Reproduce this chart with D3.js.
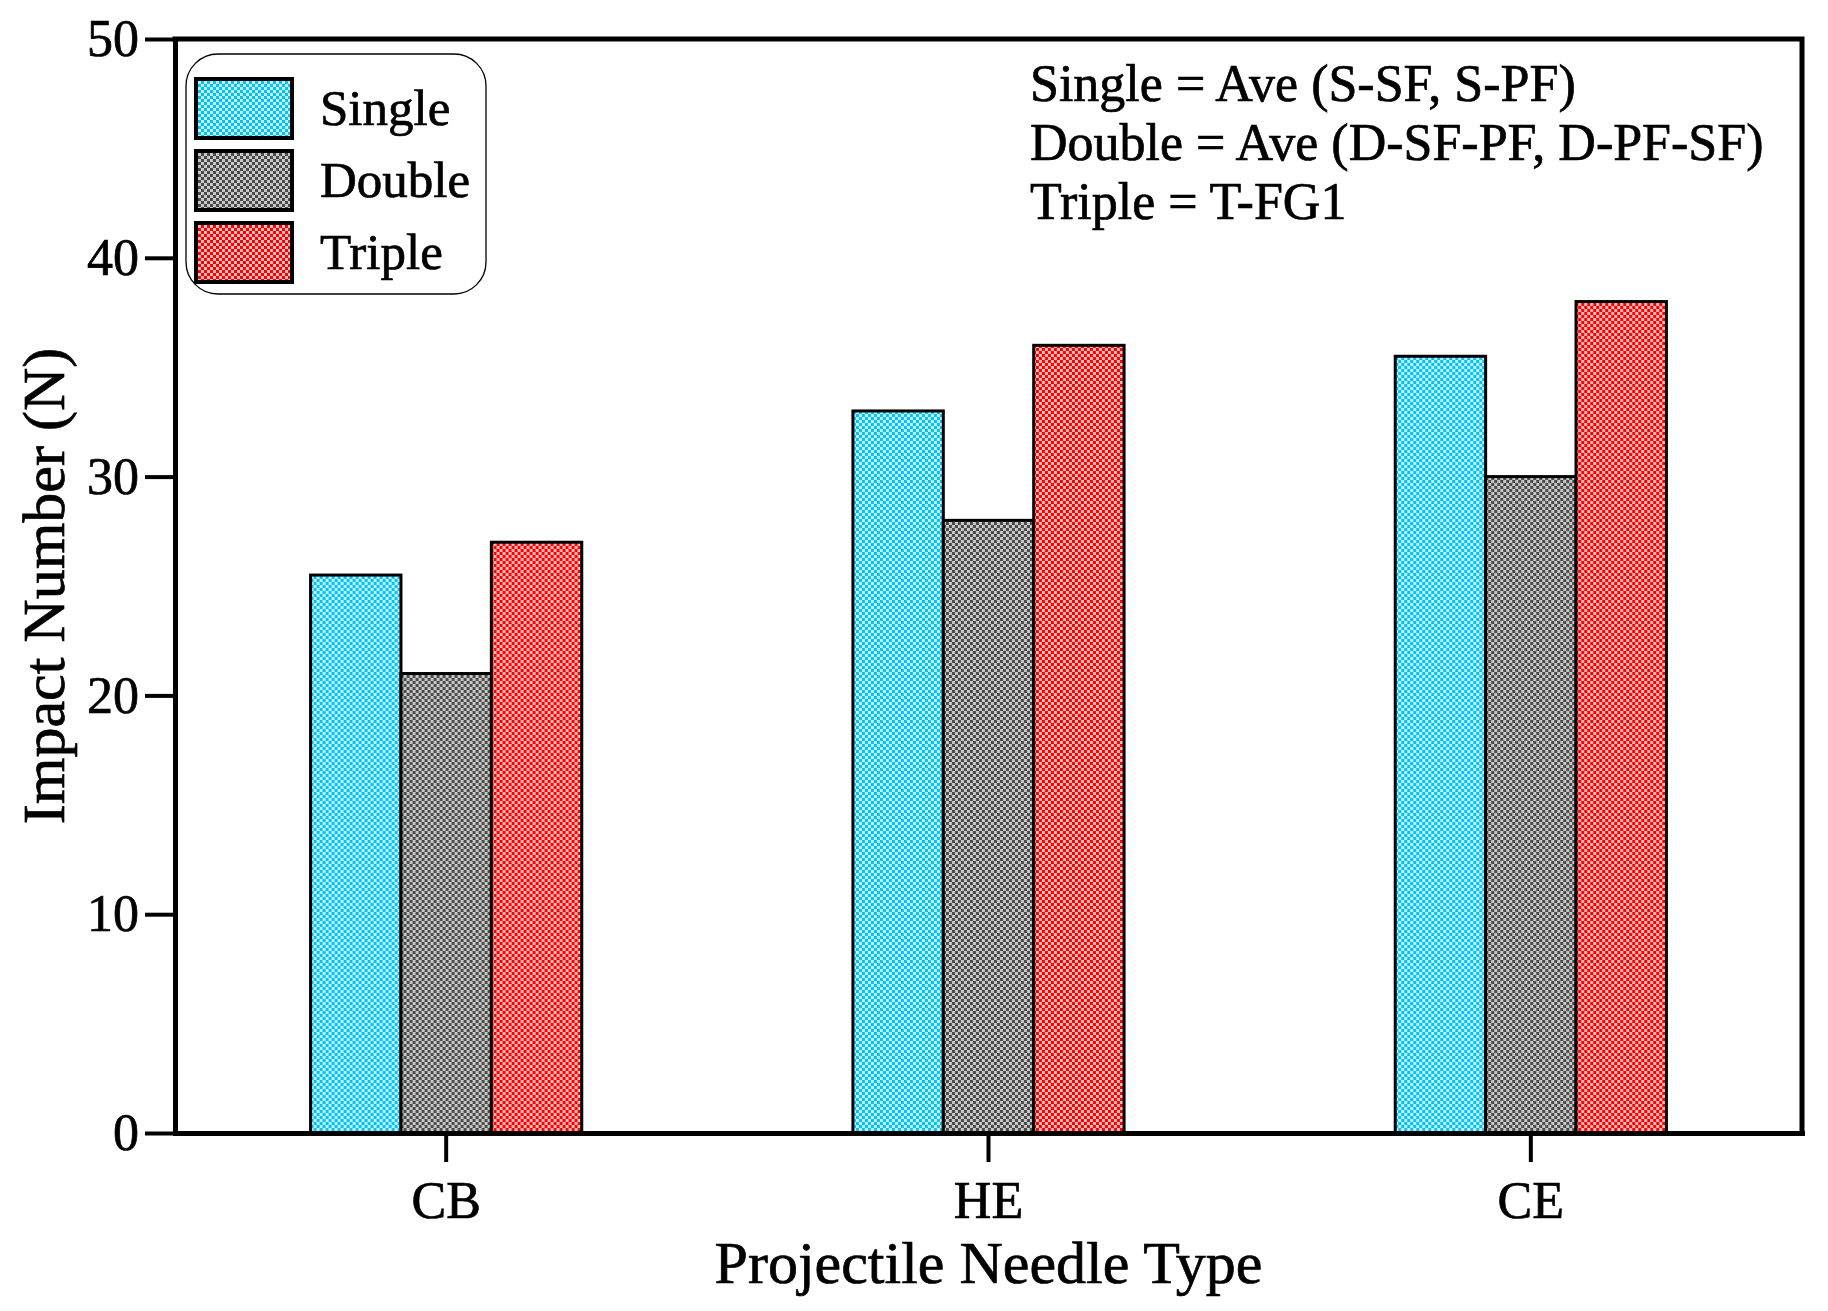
<!DOCTYPE html>
<html>
<head>
<meta charset="utf-8">
<script src="https://cdn.jsdelivr.net/npm/d3@7"></script>
<style>
body { margin: 0; background: #fff; }
svg { display: block; }
text { font-family: "Liberation Serif", "Times New Roman", serif; fill: #000; stroke: #000; stroke-width: 0.7px; }
</style>
</head>
<body>
<div id="graph"></div>
<script>
var categories = ["CB", "HE", "CE"];
var series = ["Single", "Double", "Triple"];
var singleValues = [25.5, 33, 35.5];
var doubleValues = [21, 28, 30];
var tripleValues = [27, 36, 38];
var yTicks = [0, 10, 20, 30, 40, 50];
var notes = ["Single = Ave (S-SF, S-PF)", "Double = Ave (D-SF-PF, D-PF-SF)", "Triple = T-FG1"];

function dessin() {
    "use strict";
    var margin = {top: 39, right: 26, bottom: 178, left: 175},
        width = 1828 - margin.left - margin.right,
        height = 1311 - margin.top - margin.bottom,
        motifs = {
            Single: {fonce: "#00c4f5", clair: "#c4f0ff"},
            Double: {fonce: "#4a4a4a", clair: "#c8c8c8"},
            Triple: {fonce: "#ff0000", clair: "#ffbcbc"}
        },
        valeurs = [singleValues, doubleValues, tripleValues],
        donnees = categories.map(function (c, i) {
            return series.map(function (s, j) { return {cat: c, serie: s, val: valeurs[j][i]}; });
        }),

        racine = d3.select("#graph")
            .append("svg")
                .attr("width", 1828)
                .attr("height", 1311),
        defs = racine.append("defs"),
        svg = racine.append("g")
            .attr("transform", "translate(" + margin.left + "," + margin.top + ")"),

        x = d3.scaleBand()
            .domain(categories)
            .range([0, width])
            .paddingInner(0.5)
            .paddingOuter(0.25),
        xs = d3.scaleBand()
            .domain(series)
            .range([0, x.bandwidth()]),
        y = d3.scaleLinear()
            .domain([0, 50])
            .range([height, 0]);

    // motifs en damier
    series.forEach(function (s) {
        var p = defs.append("pattern")
            .attr("id", "motif-" + s)
            .attr("patternUnits", "userSpaceOnUse")
            .attr("width", 6)
            .attr("height", 6);
        p.append("rect").attr("width", 6).attr("height", 6).attr("fill", motifs[s].clair);
        p.append("rect").attr("width", 3).attr("height", 3).attr("fill", motifs[s].fonce);
        p.append("rect").attr("x", 3).attr("y", 3).attr("width", 3).attr("height", 3).attr("fill", motifs[s].fonce);
    });

    // barres
    svg.selectAll(".groupe")
        .data(donnees)
        .enter()
        .append("g")
            .attr("transform", function (d) { return "translate(" + x(d[0].cat) + ",0)"; })
        .selectAll("rect")
        .data(function (d) { return d; })
        .enter()
        .append("rect")
            .attr("x", function (d) { return xs(d.serie); })
            .attr("y", function (d) { return y(d.val); })
            .attr("width", xs.bandwidth())
            .attr("height", function (d) { return height - y(d.val); })
            .attr("fill", function (d) { return "url(#motif-" + d.serie + ")"; })
            .attr("stroke", "#000")
            .attr("stroke-width", 3);

    // cadre haut et droit
    svg.append("path")
        .attr("d", "M0,0H" + width + "V" + height)
        .attr("fill", "none")
        .attr("stroke", "#000")
        .attr("stroke-width", 5)
        .attr("stroke-linecap", "square");

    var axeX = svg.append("g")
        .attr("transform", "translate(0," + height + ")")
        .call(d3.axisBottom(x).tickSize(29).tickSizeOuter(0).tickPadding(19));
    axeX.select(".domain").attr("stroke-width", 5).attr("stroke-linecap", "square");
    axeX.selectAll(".tick line").attr("stroke-width", 4);
    axeX.selectAll(".tick text")
        .attr("font-size", 52)
        .attr("font-family", "Liberation Serif")
        .attr("fill", "#000");

    var axeY = svg.append("g")
        .call(d3.axisLeft(y).tickValues(yTicks).tickSize(30).tickSizeOuter(0).tickPadding(6));
    axeY.select(".domain").attr("stroke-width", 5).attr("stroke-linecap", "square");
    axeY.selectAll(".tick line").attr("stroke-width", 4);
    axeY.selectAll(".tick text")
        .attr("font-size", 52)
        .attr("font-family", "Liberation Serif")
        .attr("fill", "#000");

    // titres des axes
    svg.append("text")
        .attr("x", width / 2)
        .attr("y", height + 150)
        .style("text-anchor", "middle")
        .attr("font-size", 60)
        .text("Projectile Needle Type");
    svg.append("text")
        .attr("transform", "translate(" + (64 - margin.left) + "," + (height / 2) + ") rotate(-90)")
        .style("text-anchor", "middle")
        .attr("font-size", 60)
        .text("Impact Number (N)");

    // légende
    var leg = svg.append("g").attr("transform", "translate(11,15)");
    leg.append("rect")
        .attr("width", 300)
        .attr("height", 240)
        .attr("rx", 32)
        .attr("fill", "#fff")
        .attr("stroke", "#000")
        .attr("stroke-width", 1.3);
    leg.selectAll(".item")
        .data(series)
        .enter()
        .append("rect")
            .attr("x", 10)
            .attr("y", function (d, i) { return 25 + i * 72; })
            .attr("width", 96)
            .attr("height", 59)
            .attr("fill", function (d) { return "url(#motif-" + d + ")"; })
            .attr("stroke", "#000")
            .attr("stroke-width", 4);
    leg.selectAll(".libelle")
        .data(series)
        .enter()
        .append("text")
            .attr("x", 134)
            .attr("y", function (d, i) { return 71 + i * 72; })
            .attr("font-size", 51)
            .text(function (d) { return d; });

    // notes
    svg.selectAll(".note")
        .data(notes)
        .enter()
        .append("text")
            .attr("x", 855)
            .attr("y", function (d, i) { return 62 + i * 59; })
            .attr("font-size", 52)
            .text(function (d) { return d; });
}

dessin();
</script>
</body>
</html>
